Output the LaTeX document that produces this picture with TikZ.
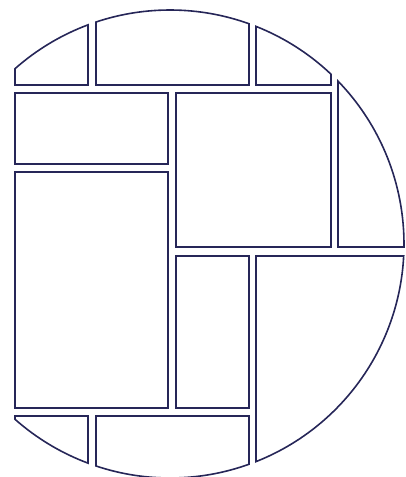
\documentclass[tikz,border=0pt]{standalone}
\usepackage{tikz}
\definecolor{stoneline}{RGB}{38,38,88}

\begin{document}
\begin{tikzpicture}[
    x=1pt, y=1pt,
    stone/.style={draw=stoneline, line width=1.6pt, line join=miter}
]
\pgfmathsetmacro\rad{234}
\useasboundingbox (-170,-233) rectangle (236,244);
% top row, cut by the disc
\draw[stone] (131.48:\rad) arc[start angle=131.48, end angle=110.51, radius=\rad] -- (-82,159) -- (-155,159) -- cycle;
\draw[stone] (108.44:\rad) arc[start angle=108.44, end angle=70.27, radius=\rad] -- (79,159) -- (-74,159) -- cycle;
\draw[stone] (68.44:\rad) arc[start angle=68.44, end angle=46.53, radius=\rad] -- (161,159) -- (86,159) -- cycle;
% inner slabs
\draw[stone] (-155,151) rectangle (-2,80);
\draw[stone] (-155,72) rectangle (-2,-164);
\draw[stone] (6,151) rectangle (161,-3);
\draw[stone] (6,-12) rectangle (79,-164);
% right side
\draw[stone] (44.11:\rad) arc[start angle=44.11, end angle=-0.73, radius=\rad] -- (168,-3) -- cycle;
\draw[stone] (-2.94:\rad) arc[start angle=-2.94, end angle=-68.44, radius=\rad] -- (86,-12) -- cycle;
% bottom row
\draw[stone] (-155,-172) -- (-82,-172) -- (-110.51:\rad) arc[start angle=-110.51, end angle=-131.48, radius=\rad] -- cycle;
\draw[stone] (-74,-172) -- (79,-172) -- (-70.27:\rad) arc[start angle=-70.27, end angle=-108.44, radius=\rad] -- cycle;
\end{tikzpicture}
\end{document}
